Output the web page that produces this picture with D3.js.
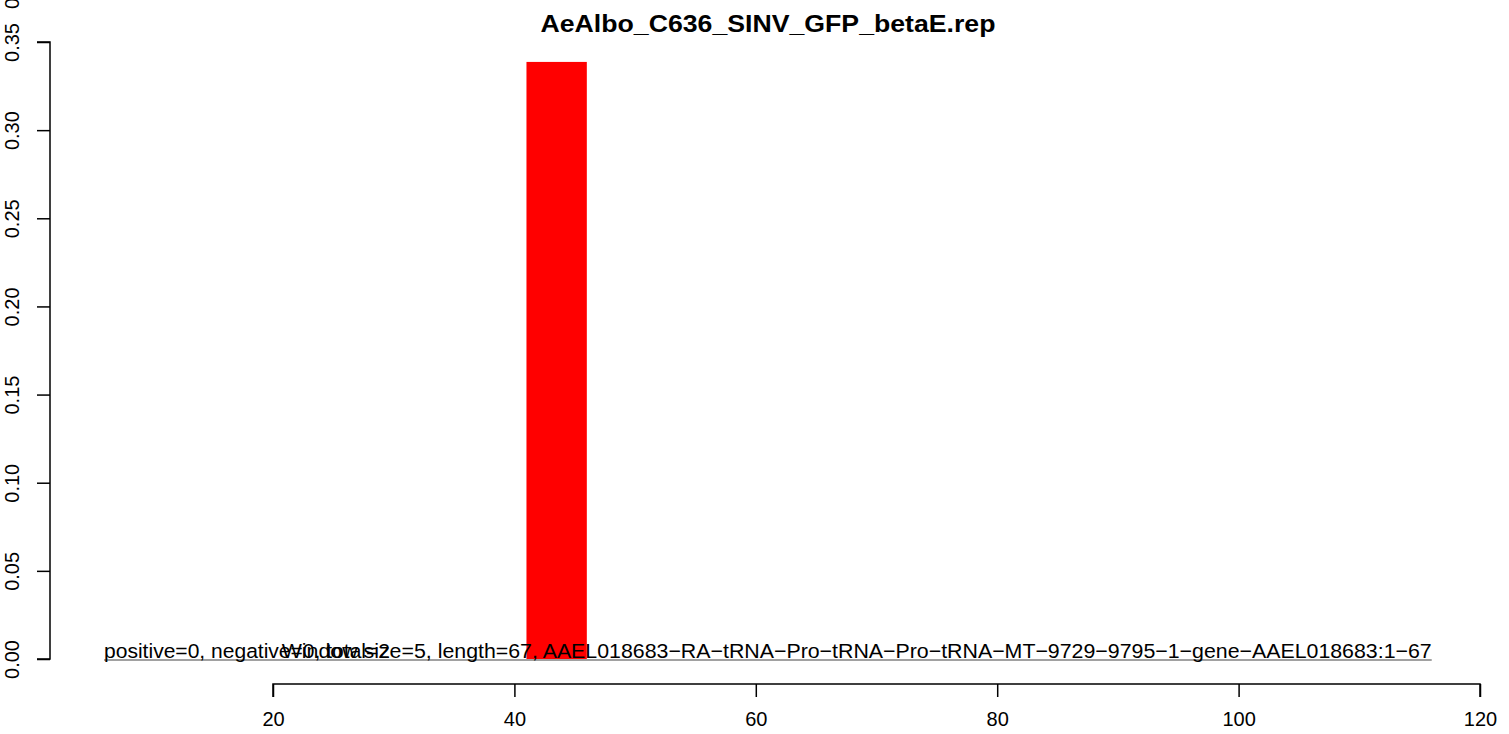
<!DOCTYPE html>
<html>
<head>
<meta charset="utf-8">
<script src="https://cdn.jsdelivr.net/npm/d3@7"></script>
<style>
  html, body { margin: 0; padding: 0; background: #fff; }
  svg { display: block; font-family: "Liberation Sans", Arial, Helvetica, sans-serif; }
</style>
</head>
<body>
<svg id="chart" width="1509" height="734"></svg>
<script>
// ---- data ----
const title = "AeAlbo_C636_SINV_GFP_betaE.rep";
const barStarts = [41];
const barEnds = [46];
const barValues = [0.3387];
const xTicks = [20, 40, 60, 80, 100, 120];
const yTicks = [0, 0.05, 0.10, 0.15, 0.20, 0.25, 0.30, 0.35];
const yTickLabels = ["0.00", "0.05", "0.10", "0.15", "0.20", "0.25", "0.30", "0.35"];
const baselineRange = [6, 116];
const leftNote = "positive=0, negative=0, total=2";
const rightNote = "Window size=5, length=67, AAEL018683\u2212RA\u2212tRNA\u2212Pro\u2212tRNA\u2212Pro\u2212tRNA\u2212MT\u22129729\u22129795\u22121\u2212gene\u2212AAEL018683:1\u221267";

// ---- scales ----
const svg = d3.select("#chart");
const x = d3.scaleLinear().domain([20, 120]).range([273, 1480]);
const y = d3.scaleLinear().domain([0, 0.35]).range([659, 42]);

// bars
svg.append("g").selectAll("rect")
  .data(barValues)
  .join("rect")
  .attr("x", (d, i) => x(barStarts[i]))
  .attr("width", (d, i) => x(barEnds[i]) - x(barStarts[i]))
  .attr("y", d => y(d))
  .attr("height", d => y(0) - y(d))
  .attr("fill", "#ff0000");

// baseline segment
svg.append("line")
  .attr("x1", x(baselineRange[0])).attr("x2", x(baselineRange[1]))
  .attr("y1", y(0) + 1).attr("y2", y(0) + 1)
  .attr("stroke", "#444").attr("stroke-width", 1.2);

// annotations
svg.append("text")
  .attr("x", x(baselineRange[0])).attr("y", y(0) - 1.5)
  .attr("font-size", 20.5).attr("fill", "#000")
  .attr("textLength", 286).attr("lengthAdjust", "spacingAndGlyphs")
  .text(leftNote);
svg.append("text")
  .attr("x", x(baselineRange[1]) - 1150).attr("y", y(0) - 1.5)
  .attr("font-size", 20.5).attr("fill", "#000")
  .attr("textLength", 1150).attr("lengthAdjust", "spacingAndGlyphs")
  .text(rightNote);

// x axis
const xAxis = d3.axisBottom(x).tickValues(xTicks).tickSize(13).tickPadding(15).tickFormat(d3.format("d"));
const gx = svg.append("g").attr("transform", "translate(0,684)").call(xAxis);
gx.select(".domain").attr("stroke", "#000").attr("stroke-width", 1.5).attr("d", `M${x(20)},13V0H${x(120)}V13`);
gx.selectAll(".tick line").attr("stroke", "#000").attr("stroke-width", 1.5);
gx.selectAll(".tick text").attr("font-size", 20).attr("font-family", "Liberation Sans, Arial, sans-serif").attr("fill", "#000");

// y axis
const yAxis = d3.axisLeft(y).tickValues(yTicks).tickSize(13).tickFormat((d, i) => yTickLabels[i]);
const gy = svg.append("g").attr("transform", "translate(50,0)").call(yAxis);
gy.select(".domain").attr("stroke", "#000").attr("stroke-width", 1.5).attr("d", `M-13,${y(0)}H0V${y(0.35)}H-13`);
gy.selectAll(".tick line").attr("stroke", "#000").attr("stroke-width", 1.5);
gy.selectAll(".tick text")
  .attr("font-size", 20).attr("font-family", "Liberation Sans, Arial, sans-serif").attr("fill", "#000")
  .attr("x", null).attr("dy", null)
  .attr("text-anchor", "middle")
  .attr("transform", "translate(-31,0) rotate(-90)");

// partially visible label at top-left (as in the reference)
svg.append("text")
  .attr("transform", `translate(19,${y(0.35) - 33}) rotate(-90)`)
  .attr("font-size", 20).attr("fill", "#000")
  .text("0");

// title
svg.append("text")
  .attr("x", 768).attr("y", 32)
  .attr("font-size", 23).attr("font-weight", "bold").attr("fill", "#000")
  .attr("text-anchor", "middle")
  .attr("textLength", 455).attr("lengthAdjust", "spacingAndGlyphs")
  .text(title);
</script>
</body>
</html>
